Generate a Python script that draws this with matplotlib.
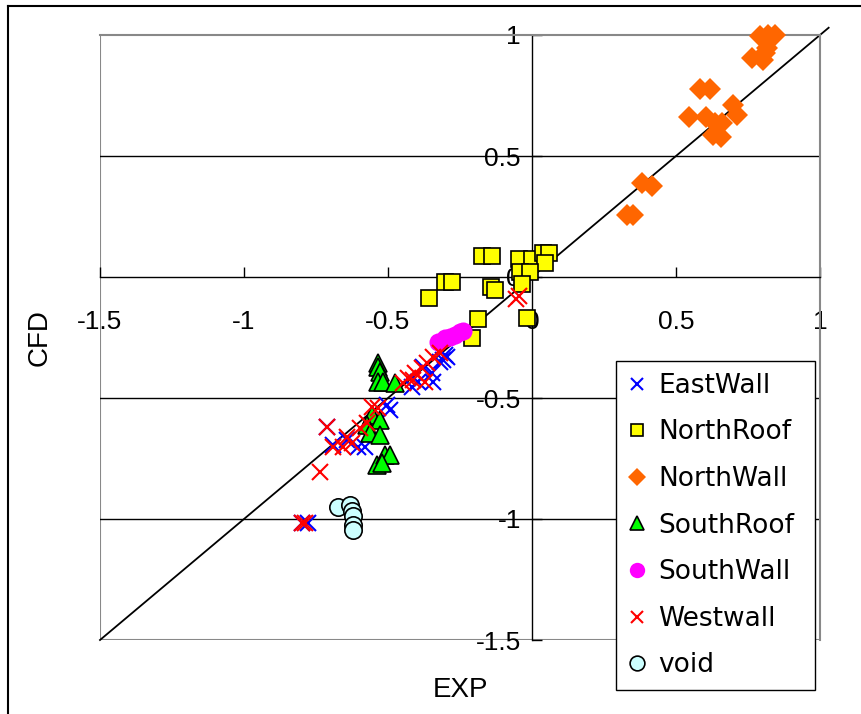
import matplotlib
matplotlib.use('Agg')
import matplotlib.pyplot as plt
from matplotlib.lines import Line2D

# pressure coefficients, experiment vs. CFD, per surface
east_x = [-0.295, -0.302, -0.309, -0.319, -0.347, -0.378, -0.344, -0.396, -0.417,
          -0.493, -0.503, -0.580, -0.604, -0.642, -0.691, -0.712, -0.799, -0.778]
east_y = [-0.331, -0.322, -0.343, -0.351, -0.397, -0.372, -0.434, -0.434, -0.455,
          -0.550, -0.529, -0.702, -0.702, -0.674, -0.694, -0.620, -1.017, -1.017]

nroof_x = [-0.174, -0.139, -0.045, 0.000, 0.038, 0.059, 0.045, -0.042, -0.007,
           -0.302, -0.278, -0.358, -0.142, -0.128, -0.035, -0.188, -0.208, -0.017]
nroof_y = [0.087, 0.087, 0.074, 0.074, 0.099, 0.099, 0.058, 0.021, 0.021,
           -0.021, -0.021, -0.087, -0.041, -0.054, -0.029, -0.174, -0.252, -0.169]

nwall_x = [0.792, 0.819, 0.844, 0.816, 0.809, 0.764, 0.802, 0.583, 0.618, 0.698,
           0.712, 0.545, 0.604, 0.635, 0.660, 0.628, 0.656, 0.382, 0.417, 0.330, 0.351]
nwall_y = [0.996, 1.000, 1.000, 0.946, 0.926, 0.905, 0.897, 0.777, 0.777, 0.711,
           0.669, 0.661, 0.661, 0.636, 0.636, 0.587, 0.579, 0.388, 0.376, 0.256, 0.256]

sroof_x = [-0.535, -0.535, -0.528, -0.535, -0.517, -0.476, -0.556, -0.528, -0.573,
           -0.563, -0.528, -0.538, -0.510, -0.493, -0.521]
sroof_y = [-0.355, -0.372, -0.393, -0.434, -0.434, -0.438, -0.570, -0.591, -0.612,
           -0.645, -0.653, -0.777, -0.736, -0.736, -0.769]

swall_x = [-0.326, -0.302, -0.285, -0.267, -0.250, -0.240]
swall_y = [-0.269, -0.252, -0.248, -0.240, -0.227, -0.223]

west_x = [-0.055, -0.045, -0.319, -0.344, -0.365, -0.382, -0.406, -0.431, -0.448,
          -0.413, -0.372, -0.535, -0.556, -0.573, -0.597, -0.625, -0.642, -0.656,
          -0.691, -0.712, -0.736, -0.799, -0.788]
west_y = [-0.090, -0.080, -0.314, -0.331, -0.355, -0.376, -0.397, -0.417, -0.438,
          -0.426, -0.434, -0.541, -0.537, -0.603, -0.624, -0.686, -0.661, -0.702,
          -0.702, -0.620, -0.806, -1.017, -1.017]

void_x = [-0.674, -0.632, -0.625, -0.622, -0.622, -0.622]
void_y = [-0.950, -0.942, -0.967, -0.988, -1.025, -1.045]

diag = [-1.5, 1.03]
xticks = [-1.5, -1, -0.5, 0, 0.5, 1]
yticks = [-1.5, -1, -0.5, 0, 0.5, 1]
grid_y = [-1, -0.5, 0.5]

plt.rcParams['font.family'] = ['Liberation Sans', 'DejaVu Sans']
plt.rcParams['axes.unicode_minus'] = True

fig = plt.figure(figsize=(8.61, 7.14), dpi=100)
ax = fig.add_axes([100/861, 1-640/714, 720/861, 605/714])
ax.set_xlim(-1.5, 1)
ax.set_ylim(-1.5, 1)

# grey plot-area frame
for s in ['top', 'right']:
    ax.spines[s].set_color('#888888')
    ax.spines[s].set_linewidth(1.5)
ax.spines['left'].set_position(('data', 0))
ax.spines['bottom'].set_position(('data', 0))
ax.spines['left'].set_linewidth(1.0)
ax.spines['bottom'].set_linewidth(1.0)
# left / bottom edges of the plot area
ax.axvline(-1.5, color='#888888', lw=1.5, zorder=0)
ax.axhline(-1.5, color='#888888', lw=1.5, zorder=0)
for g in grid_y:
    ax.axhline(g, color='black', lw=1.0, zorder=0)

ax.set_xticks(xticks)
ax.set_yticks(yticks)
ax.set_xticklabels(['%g' % t for t in xticks])
ax.set_yticklabels(['%g' % t for t in yticks])
ax.tick_params(axis='x', direction='in', length=7, width=1, pad=24, labelsize=19)
ax.tick_params(axis='y', direction='in', length=7, width=1, pad=8, labelsize=19)

ax.plot(diag, diag, color='black', lw=1.3, clip_on=False, zorder=1)

ax.plot(east_x, east_y, 'x', color='#0000FF', ms=11, mew=1.5, label='EastWall', clip_on=False, zorder=3)
ax.plot(nroof_x, nroof_y, 's', mfc='#FFFF00', mec='black', ms=11, mew=1.2, label='NorthRoof', clip_on=False, zorder=3)
ax.plot(nwall_x, nwall_y, 'D', color='#FF6600', ms=11, mew=0, label='NorthWall', clip_on=False, zorder=3)
ax.plot(sroof_x, sroof_y, '^', mfc='#00FF00', mec='black', ms=12.5, mew=1.2, label='SouthRoof', clip_on=False, zorder=3)
ax.plot(swall_x, swall_y, 'o', color='#FF00FF', ms=13, mew=0, label='SouthWall', clip_on=False, zorder=3)
ax.plot(west_x, west_y, 'x', color='#FF0000', ms=11, mew=1.5, label='Westwall', clip_on=False, zorder=3)
ax.plot(void_x, void_y, 'o', mfc='#CCFFFF', mec='black', ms=12.5, mew=1.2, label='void', clip_on=False, zorder=3)

leg = ax.legend(loc='upper left', bbox_to_anchor=(616/861, 1-361/714, 199/861, 0),
                bbox_transform=fig.transFigure, mode='expand', fancybox=False,
                edgecolor='black', framealpha=1, borderaxespad=0, markerscale=0.85,
                handlelength=0.7, handletextpad=0.45, labelspacing=0.78, borderpad=0.45,
                prop={'family': 'DejaVu Sans', 'size': 19})
leg.get_frame().set_linewidth(1.0)

fig.text(460/861, 1-690/714, 'EXP', ha='center', va='center', fontsize=20)
fig.text(40/861, 1-338/714, 'CFD', ha='center', va='center', fontsize=20, rotation=90)

# outer chart frame (top and left edges visible)
fig.add_artist(Line2D([8/861, 8/861], [0, 1-6/714], transform=fig.transFigure, color='black', lw=1.5))
fig.add_artist(Line2D([8/861, 1], [1-6/714, 1-6/714], transform=fig.transFigure, color='black', lw=1.5))

fig.savefig('out.png', dpi=100)
